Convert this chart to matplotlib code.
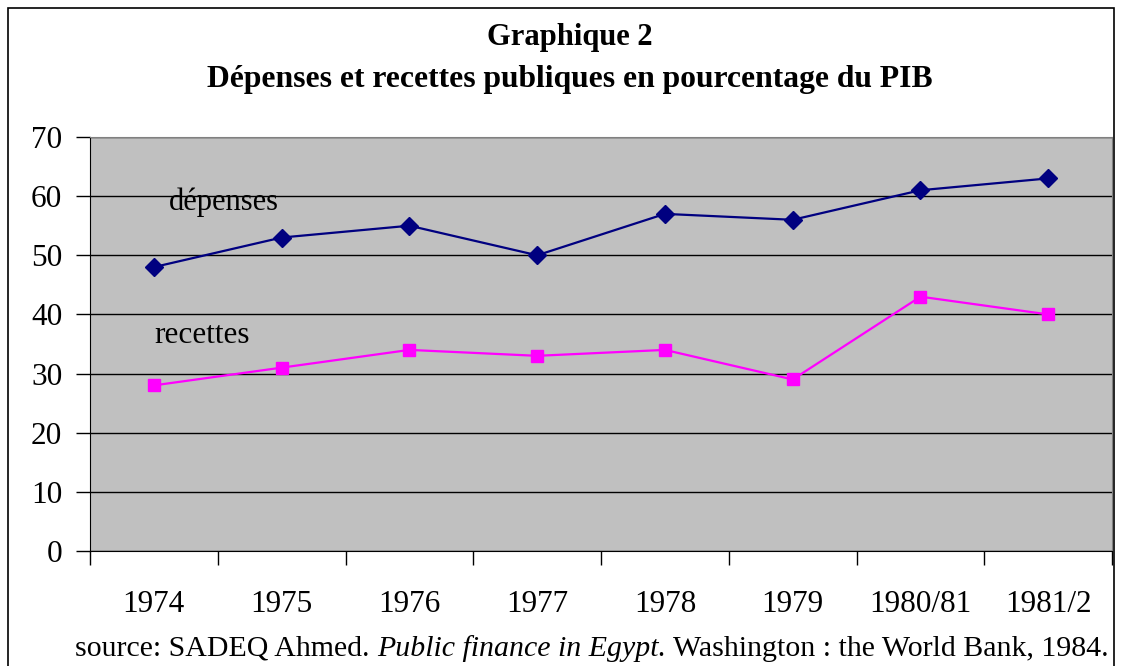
import matplotlib.pyplot as plt
from matplotlib.patches import Rectangle
import numpy as np

annees = ['1974', '1975', '1976', '1977', '1978', '1979', '1980/81', '1981/2']
depenses = [48, 53, 55, 50, 57, 56, 61, 63]
recettes = [28, 31, 34, 33, 34, 29, 43, 40]

plt.rcParams['font.family'] = ['Liberation Serif', 'DejaVu Serif']

fig = plt.figure(figsize=(11.22, 6.66), dpi=100)
ax = fig.add_axes([0.0802, 0.1727, 0.911, 0.6216])

x = np.arange(len(annees))
ax.set_facecolor('#C0C0C0')
ax.plot(x, depenses, color='#000080', lw=1.6, marker='D', ms=9, zorder=3)
ax.plot(x, recettes, color='#FF00FF', lw=1.6, marker='s', ms=9, zorder=3)

ax.set_xlim(-0.5, len(annees) - 0.5)
ax.set_ylim(0, 70)
ax.set_yticks(range(0, 71, 10))
ax.yaxis.grid(True, color='black', lw=1)
ax.set_axisbelow(True)

# ticks between categories, labels centered
ax.set_xticks(np.arange(-0.5, len(annees), 1))
ax.set_xticklabels([])
ax.set_xticks(x, minor=True)
ax.set_xticklabels(annees, minor=True, fontsize=22.5)
ax.tick_params(axis='x', which='major', direction='out', length=10, width=1)
ax.tick_params(axis='x', which='minor', length=0, pad=28)
ax.tick_params(axis='y', direction='out', length=10, width=1, labelsize=22.5, pad=10)

for s in ['top', 'right']:
    ax.spines[s].set_color('#808080')
for s in ['left', 'bottom']:
    ax.spines[s].set_color('black')

ax.text(0.12, 59, 'dépenses', fontsize=22, va='center')
ax.text(0.0, 36.4, 'recettes', fontsize=22.5, va='center')

fig.text(0.508, 0.943, 'Graphique 2', ha='center', va='center', fontsize=22, fontweight='bold')
fig.text(0.508, 0.880, 'Dépenses et recettes publiques en pourcentage du PIB',
         ha='center', va='center', fontsize=22.8, fontweight='bold')

# source line with italic part
ys = 0.026
t1 = fig.text(0.067, ys, 'source: SADEQ Ahmed. ', fontsize=21.5, va='center')
fig.canvas.draw()
r = fig.canvas.get_renderer()
bb = t1.get_window_extent(r)
t2 = fig.text(bb.x1 / fig.bbox.width, ys, 'Public finance in Egypt.', fontsize=21.5,
              va='center', style='italic')
bb2 = t2.get_window_extent(r)
fig.text(bb2.x1 / fig.bbox.width, ys, ' Washington : the World Bank, 1984.', fontsize=21.5,
         va='center')

fig.patches.append(Rectangle((8 / 1122, -0.01), 1106 / 1122, 1 - 8 / 666 + 0.01,
                             transform=fig.transFigure, fill=False, ec='black', lw=1.2))

fig.savefig('out.png', dpi=100)
